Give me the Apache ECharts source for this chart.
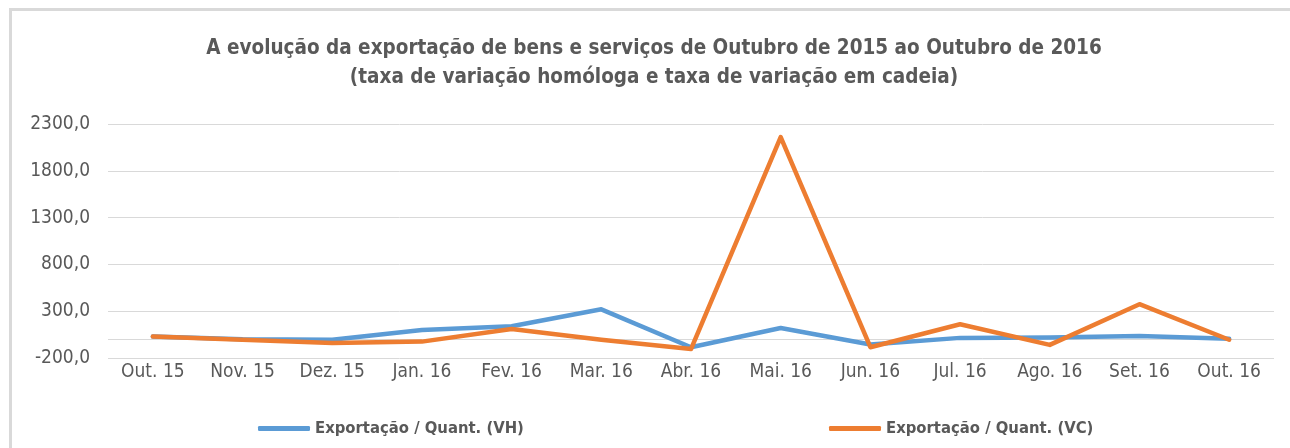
<!DOCTYPE html>
<html>
<head>
<meta charset="utf-8">
<script src="https://cdn.jsdelivr.net/npm/echarts@6/dist/echarts.min.js"></script>
<style>
html, body { margin: 0; padding: 0; background: #fff; overflow: hidden; width: 1290px; height: 448px; }
.edge { position: absolute; background: #d9d9d9; }
#edge-top { left: 9px; top: 8px; width: 1281px; height: 3px; }
#edge-left { left: 9px; top: 8px; width: 3px; height: 440px; }
#chart { position: absolute; left: 0; top: 0; width: 1290px; height: 448px; }
</style>
</head>
<body>
<div class="edge" id="edge-top"></div>
<div class="edge" id="edge-left"></div>
<div id="chart"></div>
<script>
const categories = ["Out. 15", "Nov. 15", "Dez. 15", "Jan. 16", "Fev. 16", "Mar. 16", "Abr. 16",
    "Mai. 16", "Jun. 16", "Jul. 16", "Ago. 16", "Set. 16", "Out. 16"];
const seriesVH = [30, 0, -5, 100, 140, 320, -85, 120, -55, 15, 20, 35, 5];
const seriesVC = [30, -5, -40, -25, 110, -5, -105, 2160, -85, 160, -60, 375, -5];
const nameVH = "Exportação / Quant. (VH)";
const nameVC = "Exportação / Quant. (VC)";
const titleLines = "A evolução da exportação de bens e serviços de Outubro de 2015 ao Outubro de 2016\n(taxa de variação homóloga e taxa de variação em cadeia)";

const font = "'Liberation Sans Narrow', 'DejaVu Sans Condensed', 'Liberation Sans', sans-serif";
const textColor = "#595959";

let chart = echarts.init(document.getElementById("chart"), null, { renderer: "canvas" });
let legendText = { fontFamily: font, fontSize: 16.5, fontWeight: "bold", color: textColor };
let option = {
    animation: false,
    backgroundColor: "transparent",
    textStyle: { fontFamily: font },
    title: {
        text: titleLines,
        left: 654,
        top: 34,
        padding: 0,
        textAlign: "center",
        textStyle: {
            fontFamily: font,
            fontSize: 20.5,
            fontWeight: "bold",
            color: textColor,
            lineHeight: 29
        }
    },
    legend: [
        {
            data: [nameVH],
            left: 258,
            top: 420,
            padding: 0,
            icon: "roundRect",
            itemWidth: 52,
            itemHeight: 5,
            textStyle: legendText
        },
        {
            data: [nameVC],
            left: 829,
            top: 420,
            padding: 0,
            icon: "roundRect",
            itemWidth: 52,
            itemHeight: 5,
            textStyle: legendText
        }
    ],
    grid: {
        left: 108,
        right: 16,
        top: 124,
        bottom: 90,
        containLabel: false
    },
    xAxis: {
        type: "category",
        data: categories,
        boundaryGap: true,
        axisLine: { show: false },
        axisTick: { show: false },
        axisLabel: {
            margin: 5,
            fontFamily: font,
            fontSize: 19,
            color: textColor
        }
    },
    yAxis: {
        type: "value",
        min: -200,
        max: 2300,
        interval: 500,
        axisLine: { show: false },
        axisTick: { show: false },
        splitLine: { lineStyle: { color: "#d9d9d9", width: 1 } },
        axisLabel: {
            margin: 18,
            fontFamily: font,
            fontSize: 19,
            color: textColor,
            formatter: function(value) {
                return value.toFixed(1).replace(".", ",");
            }
        }
    },
    series: [
        {
            name: nameVH,
            type: "line",
            data: seriesVH,
            symbol: "none",
            lineStyle: { color: "#5b9bd5", width: 4.5, cap: "round", join: "round" },
            itemStyle: { color: "#5b9bd5" },
            markLine: {
                silent: true,
                symbol: "none",
                label: { show: false },
                lineStyle: { color: "#d9d9d9", type: "solid", width: 1 },
                data: [{ yAxis: 0 }],
                z: 1
            }
        },
        {
            name: nameVC,
            type: "line",
            data: seriesVC,
            symbol: "none",
            lineStyle: { color: "#ed7d31", width: 4.5, cap: "round", join: "round" },
            itemStyle: { color: "#ed7d31" }
        }
    ]
};
chart.setOption(option, true);
window.onresize = () => {
    chart.resize();
};
</script>
</body>
</html>
